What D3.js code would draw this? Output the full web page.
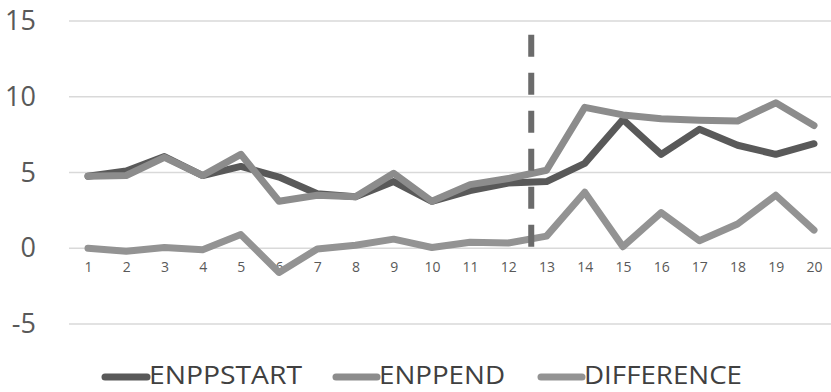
<!DOCTYPE html>
<html>
<head>
<meta charset="utf-8">
<script src="https://cdn.jsdelivr.net/npm/d3@7"></script>
<style>
  body { margin: 0; background: #fff; }
  svg { display: block; }
</style>
</head>
<body>
<div id="chart"></div>
<script>
// data
var periods = [1, 2, 3, 4, 5, 6, 7, 8, 9, 10, 11, 12, 13, 14, 15, 16, 17, 18, 19, 20];
var enppStart = [4.75, 5.1, 6.05, 4.8, 5.4, 4.7, 3.6, 3.4, 4.4, 3.1, 3.8, 4.3, 4.4, 5.6, 8.5, 6.2, 7.85, 6.8, 6.2, 6.9];
var enppEnd = [4.75, 4.8, 6.0, 4.8, 6.2, 3.1, 3.5, 3.4, 4.95, 3.1, 4.2, 4.6, 5.15, 9.3, 8.8, 8.55, 8.45, 8.4, 9.6, 8.1];
var difference = [0.0, -0.2, 0.05, -0.1, 0.9, -1.6, -0.05, 0.2, 0.6, 0.05, 0.4, 0.35, 0.8, 3.7, 0.1, 2.35, 0.5, 1.6, 3.5, 1.2];
var yTicks = [-5, 0, 5, 10, 15];
var seriesNames = ["ENPPSTART", "ENPPEND", "DIFFERENCE"];
var splitAt = 12.6;   // dashed marker between period 12 and 13

var width = 831, height = 392;

var svg = d3.select("#chart")
    .append("svg")
        .attr("width", width)
        .attr("height", height);

var x = d3.scaleLinear()
    .domain([1, 20])
    .range([88, 814]);

var y = d3.scaleLinear()
    .domain([-5, 15])
    .range([324, 21]);

var color = d3.scaleOrdinal()
    .domain(seriesNames)
    .range(["#595959", "#8c8c8c", "#939393"]);

// gridlines
svg.append("g")
    .selectAll("line")
    .data(yTicks)
    .enter()
    .append("line")
        .attr("x1", 69)
        .attr("x2", 831)
        .attr("y1", function(d) { return y(d); })
        .attr("y2", function(d) { return y(d); })
        .attr("stroke", "#d9d9d9")
        .attr("stroke-width", 1.5);

// y axis labels
var yAxis = svg.append("g")
    .attr("transform", "translate(36,0)")
    .call(d3.axisLeft(y).tickValues(yTicks).tickSize(0).tickPadding(0).tickFormat(d3.format("d")));
yAxis.select(".domain").remove();
yAxis.selectAll("text")
    .attr("font-family", "'Open Sans', sans-serif")
    .attr("font-size", 27)
    .attr("fill", "#595959")
    .text(function(d) { return d < 0 ? "-" + Math.abs(d) : d; });

// x axis labels (sit under the zero line)
var xAxis = svg.append("g")
    .attr("transform", "translate(0," + y(0) + ")")
    .call(d3.axisBottom(x).tickValues(periods).tickSize(0).tickPadding(14).tickFormat(d3.format("d")));
xAxis.select(".domain").remove();
xAxis.selectAll("text")
    .attr("font-family", "'Open Sans', sans-serif")
    .attr("font-size", 14)
    .attr("fill", "#595959");

// lines
var line = d3.line()
    .x(function(d, i) { return x(periods[i]); })
    .y(function(d) { return y(d); });

var series = [
    {name: "DIFFERENCE", values: difference},
    {name: "ENPPSTART", values: enppStart},
    {name: "ENPPEND", values: enppEnd}
];

svg.append("g")
    .selectAll("path")
    .data(series)
    .enter()
    .append("path")
        .attr("d", function(d) { return line(d.values); })
        .attr("fill", "none")
        .attr("stroke", function(d) { return color(d.name); })
        .attr("stroke-width", 7)
        .attr("stroke-linejoin", "round")
        .attr("stroke-linecap", "round");

// dashed split marker
svg.append("line")
    .attr("x1", x(splitAt))
    .attr("x2", x(splitAt))
    .attr("y1", y(14.1))
    .attr("y2", y(0))
    .attr("stroke", "#6b6b6b")
    .attr("stroke-width", 6)
    .attr("stroke-dasharray", "22 16");

// legend
var legendPos = [
    {name: "ENPPSTART", x0: 105, x1: 147, tx: 149, tw: 153},
    {name: "ENPPEND", x0: 336, x1: 377, tx: 379, tw: 126},
    {name: "DIFFERENCE", x0: 541, x1: 582, tx: 584, tw: 158}
];

var legend = svg.append("g")
    .selectAll("g")
    .data(legendPos)
    .enter()
    .append("g");

legend.append("line")
    .attr("x1", function(d) { return d.x0; })
    .attr("x2", function(d) { return d.x1; })
    .attr("y1", 377)
    .attr("y2", 377)
    .attr("stroke", function(d) { return color(d.name); })
    .attr("stroke-width", 7)
    .attr("stroke-linecap", "round");

legend.append("text")
    .attr("x", function(d) { return d.tx; })
    .attr("y", 384)
    .attr("font-family", "'Open Sans', sans-serif")
    .attr("font-size", 25)
    .attr("fill", "#404040")
    .attr("textLength", function(d) { return d.tw; })
    .attr("lengthAdjust", "spacingAndGlyphs")
    .text(function(d) { return d.name; });
</script>
</body>
</html>
